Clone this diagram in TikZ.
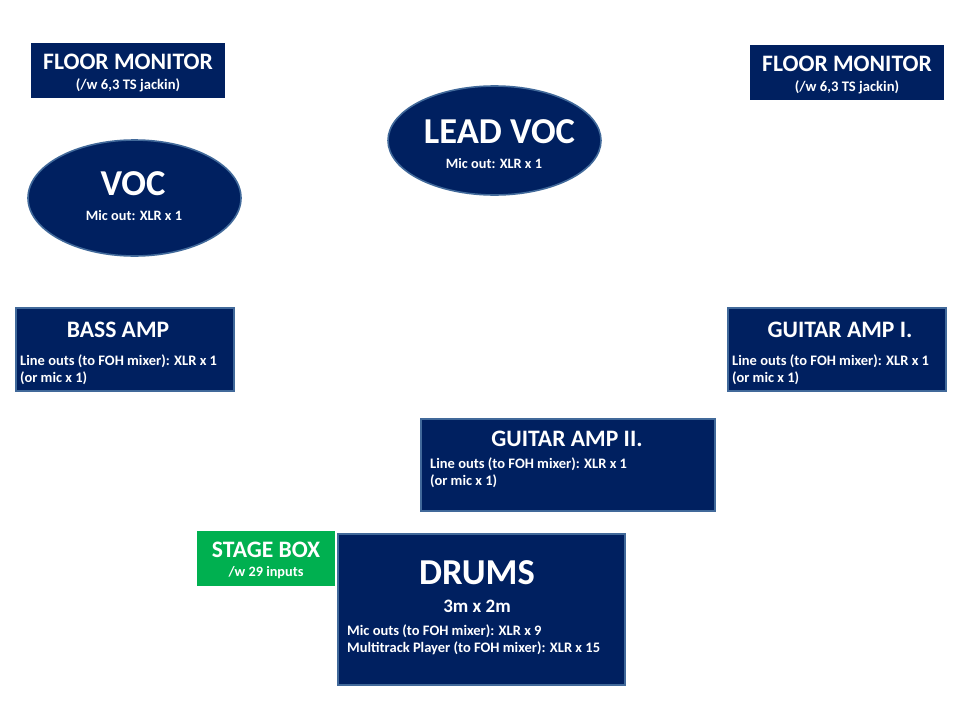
\documentclass[tikz,border=0pt]{standalone}
\usepackage{fontspec}
\setmainfont{Carlito}
\usetikzlibrary{shapes.geometric}
\definecolor{navy}{HTML}{002060}
\definecolor{edge}{HTML}{41699A}
\definecolor{stagegreen}{HTML}{00B050}
\tikzset{
  box/.style={rectangle, fill=navy, draw=edge, line width=1.6pt, inner sep=0pt, anchor=north west},
  flatbox/.style={rectangle, fill=navy, inner sep=0pt, anchor=north west},
  greenbox/.style={rectangle, fill=stagegreen, inner sep=0pt, anchor=north west},
  oval/.style={ellipse, fill=navy, draw=edge, line width=1.6pt, inner sep=0pt},
  txt/.style={text=white, font=\bfseries, inner sep=0pt},
  huge/.style={txt, font=\bfseries\fontsize{36.5}{40}\selectfont},
  big/.style={txt, font=\bfseries\fontsize{23.6}{28}\selectfont},
  mid/.style={txt, font=\bfseries\fontsize{23.6}{28}\selectfont},
  small/.style={txt, font=\bfseries\fontsize{14.3}{17}\selectfont},
  tiny/.style={txt, font=\bfseries\fontsize{14.6}{18}\selectfont},
  line/.style={txt, font=\bfseries\fontsize{14.5}{18}\selectfont, anchor=west},
}
\begin{document}
\begin{tikzpicture}[x=1pt,y=-1pt]
\useasboundingbox (0,0) rectangle (960,720);
% floor monitors
\node[flatbox, minimum width=194pt, minimum height=55pt] (fmL) at (31,43) {};
\node[big] (fmLt) at (128,62) {FLOOR MONITOR};
\node[tiny] (fmLs) at (128,85) {(/w 6,3 TS jackin)};
\node[flatbox, minimum width=194pt, minimum height=55pt] (fmR) at (750,45) {};
\node[big] (fmRt) at (847,64) {FLOOR MONITOR};
\node[tiny] (fmRs) at (847,87) {(/w 6,3 TS jackin)};
% lead voc
\node[oval, minimum width=213pt, minimum height=109pt] (lead) at (494.5,140.5) {};
\node[huge] (leadt) at (499.5,132) {LEAD VOC};
\node[small] (leads) at (494,164) {Mic out: XLR x 1};
% voc
\node[oval, minimum width=213pt, minimum height=116pt] (voc) at (134.5,198) {};
\node[huge] (voct) at (133,184) {VOC};
\node[small] (vocs) at (134,216) {Mic out: XLR x 1};
% bass amp
\node[box, minimum width=218pt, minimum height=83pt] (bass) at (15,307) {};
\node[mid] (basst) at (118,330) {BASS AMP};
\node[line] (bassl1) at (20,361) {Line outs (to FOH mixer): XLR x 1};
\node[line] (bassl2) at (20,378) {(or mic x 1)};
% guitar amp I
\node[box, minimum width=218pt, minimum height=83pt] (gtr1) at (727,307) {};
\node[mid] (gtr1t) at (840,330) {GUITAR AMP I.};
\node[line] (gtr1l1) at (732,361) {Line outs (to FOH mixer): XLR x 1};
\node[line] (gtr1l2) at (732,378) {(or mic x 1)};
% guitar amp II
\node[box, minimum width=294pt, minimum height=92pt] (gtr2) at (420,418) {};
\node[mid] (gtr2t) at (567,439) {GUITAR AMP II.};
\node[line] (gtr2l1) at (430,464) {Line outs (to FOH mixer): XLR x 1};
\node[line] (gtr2l2) at (430,481) {(or mic x 1)};
% stage box
\node[greenbox, minimum width=138pt, minimum height=55pt] (stage) at (197,531) {};
\node[mid] (staget) at (266,550) {STAGE BOX};
\node[small] (stages) at (266,573) {/w 29 inputs};
% drums
\node[box, minimum width=287pt, minimum height=151pt] (drums) at (337,533) {};
\node[huge] (drumst) at (477,573) {DRUMS};
\node[txt, font=\bfseries\fontsize{19}{22}\selectfont] (drumss) at (477,606) {3m x 2m};
\node[line] (drumsl1) at (347,631) {Mic outs (to FOH mixer): XLR x 9};
\node[line] (drumsl2) at (347,648) {Multitrack Player (to FOH mixer): XLR x 15};
\end{tikzpicture}
\end{document}
